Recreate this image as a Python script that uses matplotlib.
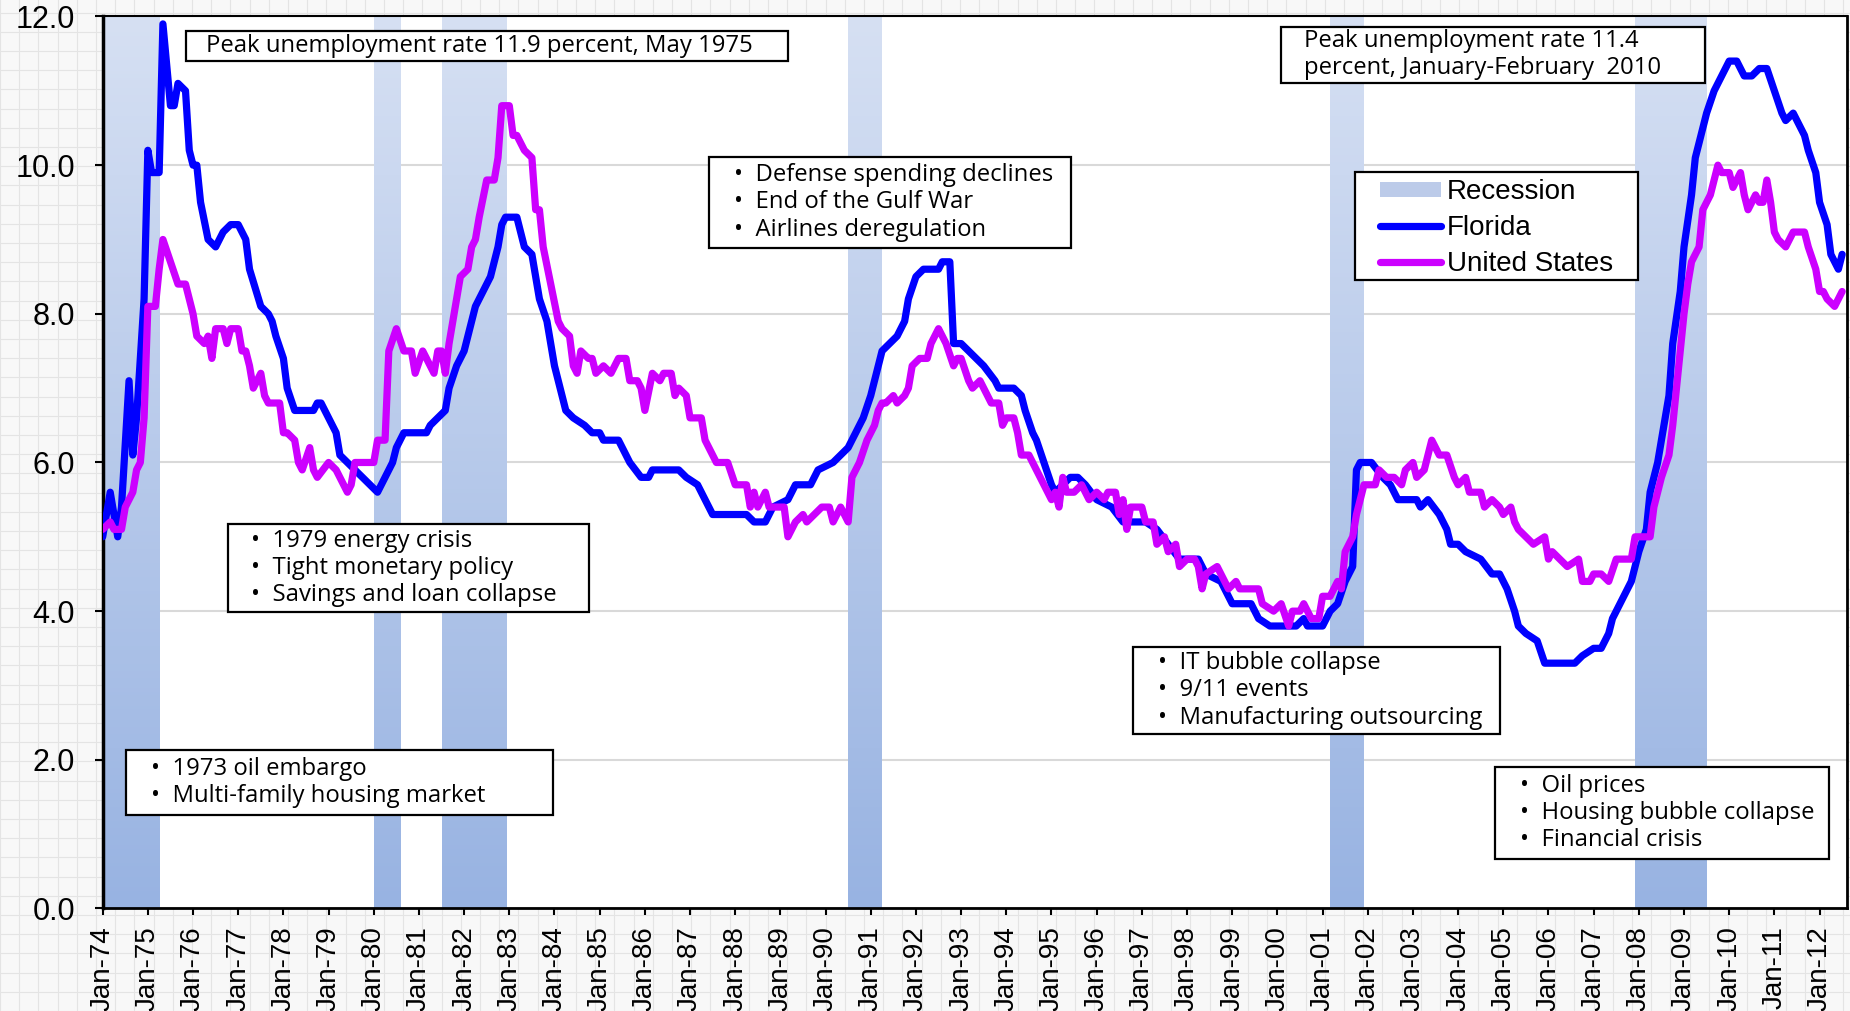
import matplotlib
matplotlib.use("Agg")
import matplotlib.pyplot as plt
import numpy as np
from matplotlib.colors import LinearSegmentedColormap
from matplotlib.lines import Line2D
from matplotlib.patches import Patch, Rectangle

# unemployment rate, (months since Jan-1974, percent)
florida = [
    (0, 5.0), (2, 5.6), (4, 5.0), (5, 5.4), (7, 7.1), (8, 6.1), (9, 6.6), (10, 7.4), (11, 8.2),
    (12, 10.2), (13, 9.9), (15, 9.9), (16, 11.9), (18, 10.8), (19, 10.8), (20, 11.1), (22, 11.0),
    (23, 10.2), (24, 10.0), (25, 10.0), (26, 9.5), (28, 9.0), (30, 8.9), (32, 9.1), (34, 9.2),
    (36, 9.2), (38, 9.0), (39, 8.6), (42, 8.1), (44, 8.0), (45, 7.9), (46, 7.7), (48, 7.4),
    (49, 7.0), (51, 6.7), (56, 6.7), (57, 6.8), (58, 6.8), (60, 6.6), (62, 6.4), (63, 6.1),
    (65, 6.0), (67, 5.9), (69, 5.8), (73, 5.6), (75, 5.8), (77, 6.0), (78, 6.2), (80, 6.4),
    (86, 6.4), (87, 6.5), (89, 6.6), (91, 6.7), (92, 7.0), (94, 7.3), (96, 7.5), (98, 7.9),
    (99, 8.1), (101, 8.3), (103, 8.5), (105, 8.9), (106, 9.2), (107, 9.3), (110, 9.3), (112, 8.9),
    (114, 8.8), (115, 8.5), (116, 8.2), (118, 7.9), (120, 7.3), (122, 6.9), (123, 6.7), (125, 6.6),
    (128, 6.5), (130, 6.4), (132, 6.4), (133, 6.3), (137, 6.3), (140, 6.0), (143, 5.8), (145, 5.8),
    (146, 5.9), (153, 5.9), (155, 5.8), (158, 5.7), (160, 5.5), (162, 5.3), (171, 5.3), (173, 5.2),
    (176, 5.2), (178, 5.4), (182, 5.5), (184, 5.7), (188, 5.7), (190, 5.9), (194, 6.0), (196, 6.1),
    (198, 6.2), (200, 6.4), (202, 6.6), (204, 6.9), (206, 7.3), (207, 7.5), (209, 7.6), (211, 7.7),
    (213, 7.9), (214, 8.2), (216, 8.5), (218, 8.6), (222, 8.6), (223, 8.7), (225, 8.7), (226, 7.6),
    (228, 7.6), (230, 7.5), (232, 7.4), (234, 7.3), (237, 7.1), (238, 7.0), (242, 7.0), (244, 6.9),
    (245, 6.7), (247, 6.4), (248, 6.3), (250, 6.0), (252, 5.7), (253, 5.6), (255, 5.7), (257, 5.8),
    (259, 5.8), (261, 5.7), (264, 5.5), (268, 5.4), (271, 5.2), (277, 5.2), (280, 5.1), (283, 4.9),
    (286, 4.7), (291, 4.7), (293, 4.5), (297, 4.4), (300, 4.1), (305, 4.1), (307, 3.9), (310, 3.8),
    (317, 3.8), (319, 3.9), (320, 3.8), (324, 3.8), (326, 4.0), (328, 4.1), (330, 4.4), (332, 4.6),
    (333, 5.9), (334, 6.0), (337, 6.0), (340, 5.8), (342, 5.7), (344, 5.5), (349, 5.5), (350, 5.4),
    (352, 5.5), (355, 5.3), (357, 5.1), (358, 4.9), (360, 4.9), (362, 4.8), (366, 4.7), (369, 4.5),
    (371, 4.5), (373, 4.3), (375, 4.0), (376, 3.8), (378, 3.7), (381, 3.6), (383, 3.3), (391, 3.3),
    (393, 3.4), (396, 3.5), (398, 3.5), (400, 3.7), (401, 3.9), (403, 4.1), (405, 4.3), (406, 4.4),
    (407, 4.6), (408, 4.8), (410, 5.1), (411, 5.6), (413, 6.0), (414, 6.3), (416, 6.9), (417, 7.6),
    (419, 8.3), (420, 8.9), (422, 9.6), (423, 10.1), (425, 10.5), (426, 10.7), (428, 11.0),
    (430, 11.2), (432, 11.4), (434, 11.4), (436, 11.2), (438, 11.2), (440, 11.3), (442, 11.3),
    (444, 11.0), (446, 10.7), (447, 10.6), (449, 10.7), (452, 10.4), (453, 10.2), (455, 9.9),
    (456, 9.5), (458, 9.2), (459, 8.8), (461, 8.6), (462, 8.8),
]

united_states = [
    (0, 5.1), (2, 5.2), (3, 5.1), (5, 5.1), (6, 5.4), (8, 5.6), (9, 5.9), (10, 6.0), (11, 6.6),
    (12, 8.1), (14, 8.1), (15, 8.6), (16, 9.0), (18, 8.7), (20, 8.4), (22, 8.4), (23, 8.2),
    (24, 8.0), (25, 7.7), (27, 7.6), (28, 7.7), (29, 7.4), (30, 7.8), (32, 7.8), (33, 7.6),
    (34, 7.8), (36, 7.8), (37, 7.5), (38, 7.5), (39, 7.3), (40, 7.0), (42, 7.2), (43, 6.9),
    (44, 6.8), (47, 6.8), (48, 6.4), (49, 6.4), (51, 6.3), (52, 6.0), (53, 5.9), (55, 6.2),
    (56, 5.9), (57, 5.8), (60, 6.0), (62, 5.9), (63, 5.8), (65, 5.6), (66, 5.7), (67, 6.0),
    (70, 6.0), (72, 6.0), (73, 6.3), (75, 6.3), (76, 7.5), (78, 7.8), (80, 7.5), (82, 7.5),
    (83, 7.2), (85, 7.5), (86, 7.4), (88, 7.2), (89, 7.5), (90, 7.5), (91, 7.2), (92, 7.6),
    (94, 8.2), (95, 8.5), (97, 8.6), (98, 8.9), (99, 9.0), (100, 9.3), (102, 9.8), (104, 9.8),
    (105, 10.1), (106, 10.8), (108, 10.8), (109, 10.4), (110, 10.4), (112, 10.2), (114, 10.1),
    (115, 9.4), (116, 9.4), (117, 8.9), (119, 8.4), (121, 7.9), (122, 7.8), (124, 7.7), (125, 7.3),
    (126, 7.2), (127, 7.5), (129, 7.4), (130, 7.4), (131, 7.2), (133, 7.3), (135, 7.2), (136, 7.3),
    (137, 7.4), (139, 7.4), (140, 7.1), (142, 7.1), (143, 7.0), (144, 6.7), (146, 7.2), (148, 7.1),
    (149, 7.2), (151, 7.2), (152, 6.9), (153, 7.0), (155, 6.9), (156, 6.6), (159, 6.6), (160, 6.3),
    (161, 6.2), (163, 6.0), (166, 6.0), (168, 5.7), (171, 5.7), (172, 5.4), (173, 5.6), (174, 5.4),
    (176, 5.6), (177, 5.4), (181, 5.4), (182, 5.0), (184, 5.2), (186, 5.3), (187, 5.2), (189, 5.3),
    (191, 5.4), (193, 5.4), (194, 5.2), (196, 5.4), (198, 5.2), (199, 5.8), (201, 6.0), (203, 6.3),
    (205, 6.5), (206, 6.7), (207, 6.8), (208, 6.8), (210, 6.9), (211, 6.8), (213, 6.9), (214, 7.0),
    (215, 7.3), (217, 7.4), (219, 7.4), (220, 7.6), (222, 7.8), (223, 7.7), (224, 7.6), (226, 7.3),
    (227, 7.4), (228, 7.4), (230, 7.1), (231, 7.0), (233, 7.1), (235, 6.9), (236, 6.8), (238, 6.8),
    (239, 6.5), (240, 6.6), (242, 6.6), (243, 6.4), (244, 6.1), (246, 6.1), (248, 5.9), (250, 5.7),
    (252, 5.5), (253, 5.6), (254, 5.4), (255, 5.8), (256, 5.6), (258, 5.6), (260, 5.7), (262, 5.5),
    (264, 5.6), (266, 5.5), (267, 5.6), (269, 5.6), (270, 5.3), (271, 5.5), (272, 5.1), (273, 5.4),
    (276, 5.4), (277, 5.2), (279, 5.2), (280, 4.9), (282, 5.0), (283, 4.8), (285, 4.9), (286, 4.6),
    (288, 4.7), (290, 4.7), (291, 4.6), (292, 4.3), (293, 4.5), (296, 4.6), (298, 4.4), (299, 4.3),
    (301, 4.4), (302, 4.3), (304, 4.3), (307, 4.3), (308, 4.1), (311, 4.0), (313, 4.1), (315, 3.8),
    (316, 4.0), (318, 4.0), (319, 4.1), (321, 3.9), (323, 3.9), (324, 4.2), (326, 4.2), (328, 4.4),
    (329, 4.3), (330, 4.8), (332, 5.0), (333, 5.3), (335, 5.7), (338, 5.7), (339, 5.9), (341, 5.8),
    (343, 5.8), (345, 5.7), (346, 5.9), (348, 6.0), (349, 5.8), (351, 5.9), (352, 6.1), (353, 6.3),
    (355, 6.1), (357, 6.1), (359, 5.8), (360, 5.7), (362, 5.8), (363, 5.6), (366, 5.6), (367, 5.4),
    (369, 5.5), (371, 5.4), (372, 5.3), (374, 5.4), (375, 5.2), (376, 5.1), (378, 5.0), (380, 4.9),
    (383, 5.0), (384, 4.7), (385, 4.8), (387, 4.7), (389, 4.6), (392, 4.7), (393, 4.4), (395, 4.4),
    (396, 4.5), (398, 4.5), (400, 4.4), (402, 4.7), (406, 4.7), (407, 5.0), (411, 5.0), (412, 5.4),
    (414, 5.8), (416, 6.1), (417, 6.5), (418, 7.0), (419, 7.5), (420, 8.0), (421, 8.4), (422, 8.7),
    (424, 8.9), (425, 9.4), (427, 9.6), (428, 9.8), (429, 10.0), (430, 9.9), (432, 9.9), (433, 9.7),
    (434, 9.8), (435, 9.9), (436, 9.6), (437, 9.4), (439, 9.6), (440, 9.5), (441, 9.5), (442, 9.8),
    (443, 9.5), (444, 9.1), (445, 9.0), (447, 8.9), (448, 9.0), (449, 9.1), (452, 9.1), (453, 8.9),
    (455, 8.6), (456, 8.3), (457, 8.3), (458, 8.2), (460, 8.1), (461, 8.2), (462, 8.3),
]

# recession bands (months since Jan-1974)
rec_start = [0, 72, 90, 198, 326, 407]
rec_end = [15, 79, 107, 207, 335, 426]

year_ticks = list(range(0, 457, 12))
year_labels = ["Jan-%02d" % ((74 + i) % 100) for i in range(len(year_ticks))]
y_ticks = [0, 2, 4, 6, 8, 10, 12]

peak_1975 = "Peak unemployment rate 11.9 percent, May 1975"
peak_2010 = "Peak unemployment rate 11.4\npercent, January-February  2010"
causes_90 = "\u2022  Defense spending declines\n\u2022  End of the Gulf War\n\u2022  Airlines deregulation"
causes_80 = "\u2022  1979 energy crisis\n\u2022  Tight monetary policy\n\u2022  Savings and loan collapse"
causes_01 = "\u2022  IT bubble collapse\n\u2022  9/11 events\n\u2022  Manufacturing outsourcing"
causes_74 = "\u2022  1973 oil embargo\n\u2022  Multi-family housing market"
causes_08 = "\u2022  Oil prices\n\u2022  Housing bubble collapse\n\u2022  Financial crisis"


def main():
    plt.rcParams['font.family'] = 'Liberation Sans'

    fig = plt.figure(figsize=(18.5, 10.11), dpi=100)
    fig.patch.set_facecolor('#f8f8f8')

    # spreadsheet cell grid behind everything
    bg = fig.add_axes([0, 0, 1, 1], zorder=-10)
    bg.set_xlim(0, 1850)
    bg.set_ylim(0, 1011)
    bg.set_xticks(np.arange(0, 1850, 19.2))
    bg.set_yticks(np.arange(0, 1011, 19.2))
    bg.grid(True, color='#e4e4e4', lw=0.8)
    bg.tick_params(length=0, labelbottom=False, labelleft=False)
    bg.set_facecolor('#f8f8f8')
    for s in bg.spines.values():
        s.set_visible(False)

    ax = fig.add_axes([0.0555, 0.1014, 0.9429, 0.8823])
    ax.set_facecolor('white')

    # recession bands with vertical gradient
    cmap = LinearSegmentedColormap.from_list('rec', ['#d6e0f3', '#98b3e2'])
    grad = np.linspace(0, 1, 256).reshape(-1, 1)
    for s, e in zip(rec_start, rec_end):
        ax.imshow(grad, extent=(s, e, 0, 12), aspect='auto', cmap=cmap, zorder=1)

    fx, fy = zip(*florida)
    ux, uy = zip(*united_states)
    ax.plot(fx, fy, color='#0000ff', lw=5.2, solid_joinstyle='round', solid_capstyle='round', zorder=3)
    ax.plot(ux, uy, color='#cc00ff', lw=5.2, solid_joinstyle='round', solid_capstyle='round', zorder=4)

    ax.set_xlim(0, 463.3)
    ax.set_ylim(0, 12)

    ax.set_yticks(y_ticks)
    ax.set_yticklabels(["%.1f" % v for v in y_ticks])
    ax.set_xticks(year_ticks)
    ax.set_xticklabels(year_labels, rotation=90)
    ax.tick_params(axis='y', direction='out', length=6, width=1.5, pad=14, labelsize=22)
    ax.tick_params(axis='x', direction='out', length=5, width=1.5, pad=8, labelsize=20)

    ax.yaxis.grid(True, color='#d9d9d9', lw=1.5)
    ax.set_axisbelow(True)

    ax.spines['left'].set_linewidth(2.5)
    ax.spines['bottom'].set_linewidth(2)
    ax.spines['top'].set_linewidth(1.5)
    ax.spines['right'].set_linewidth(2)

    # annotation boxes: (x0, y0, x1, y1, text_x) in axes fractions
    notes = [
        (0.0478, 0.950, 0.3929, 0.9837, 0.0593, peak_1975),
        (0.6756, 0.9255, 0.9186, 0.9885, 0.6887, peak_2010),
        (0.3476, 0.7405, 0.5552, 0.8425, 0.3620, causes_90),
        (0.0719, 0.3324, 0.2788, 0.4310, 0.0852, causes_80),
        (0.5907, 0.1956, 0.8011, 0.2932, 0.6050, causes_01),
        (0.0134, 0.1048, 0.2582, 0.1777, 0.0277, causes_74),
        (0.7982, 0.0555, 0.9897, 0.1586, 0.8125, causes_08),
    ]
    for x0, y0, x1, y1, tx, txt in notes:
        ax.add_patch(Rectangle((x0, y0), x1 - x0, y1 - y0, transform=ax.transAxes,
                               fc='white', ec='black', lw=1.6, zorder=5))
        ax.text(tx, (y0 + y1) / 2, txt, transform=ax.transAxes, ha='left', va='center',
                fontsize=17.2, family='Open Sans', linespacing=1.18, zorder=6)

    # legend in its own box
    ax.add_patch(Rectangle((0.7179, 0.7046), 0.1623, 0.1211, transform=ax.transAxes,
                           fc='white', ec='black', lw=1.6, zorder=5))
    handles = [
        Patch(facecolor='#bccbe9', edgecolor='none', label='Recession'),
        Line2D([], [], color='#0000ff', lw=5.2, solid_capstyle='round', label='Florida'),
        Line2D([], [], color='#cc00ff', lw=5.2, solid_capstyle='round', label='United States'),
    ]
    leg = ax.legend(handles=handles, loc='center', bbox_to_anchor=(0.799, 0.763),
                    frameon=False, prop={'family': 'Liberation Sans', 'size': 20},
                    handlelength=2.2, handletextpad=0.2, labelspacing=0.35,
                    borderpad=0.1, handleheight=0.45)
    leg.set_zorder(6)

    fig.savefig("out.png", dpi=100, facecolor=fig.get_facecolor())


if __name__ == '__main__':
    main()
